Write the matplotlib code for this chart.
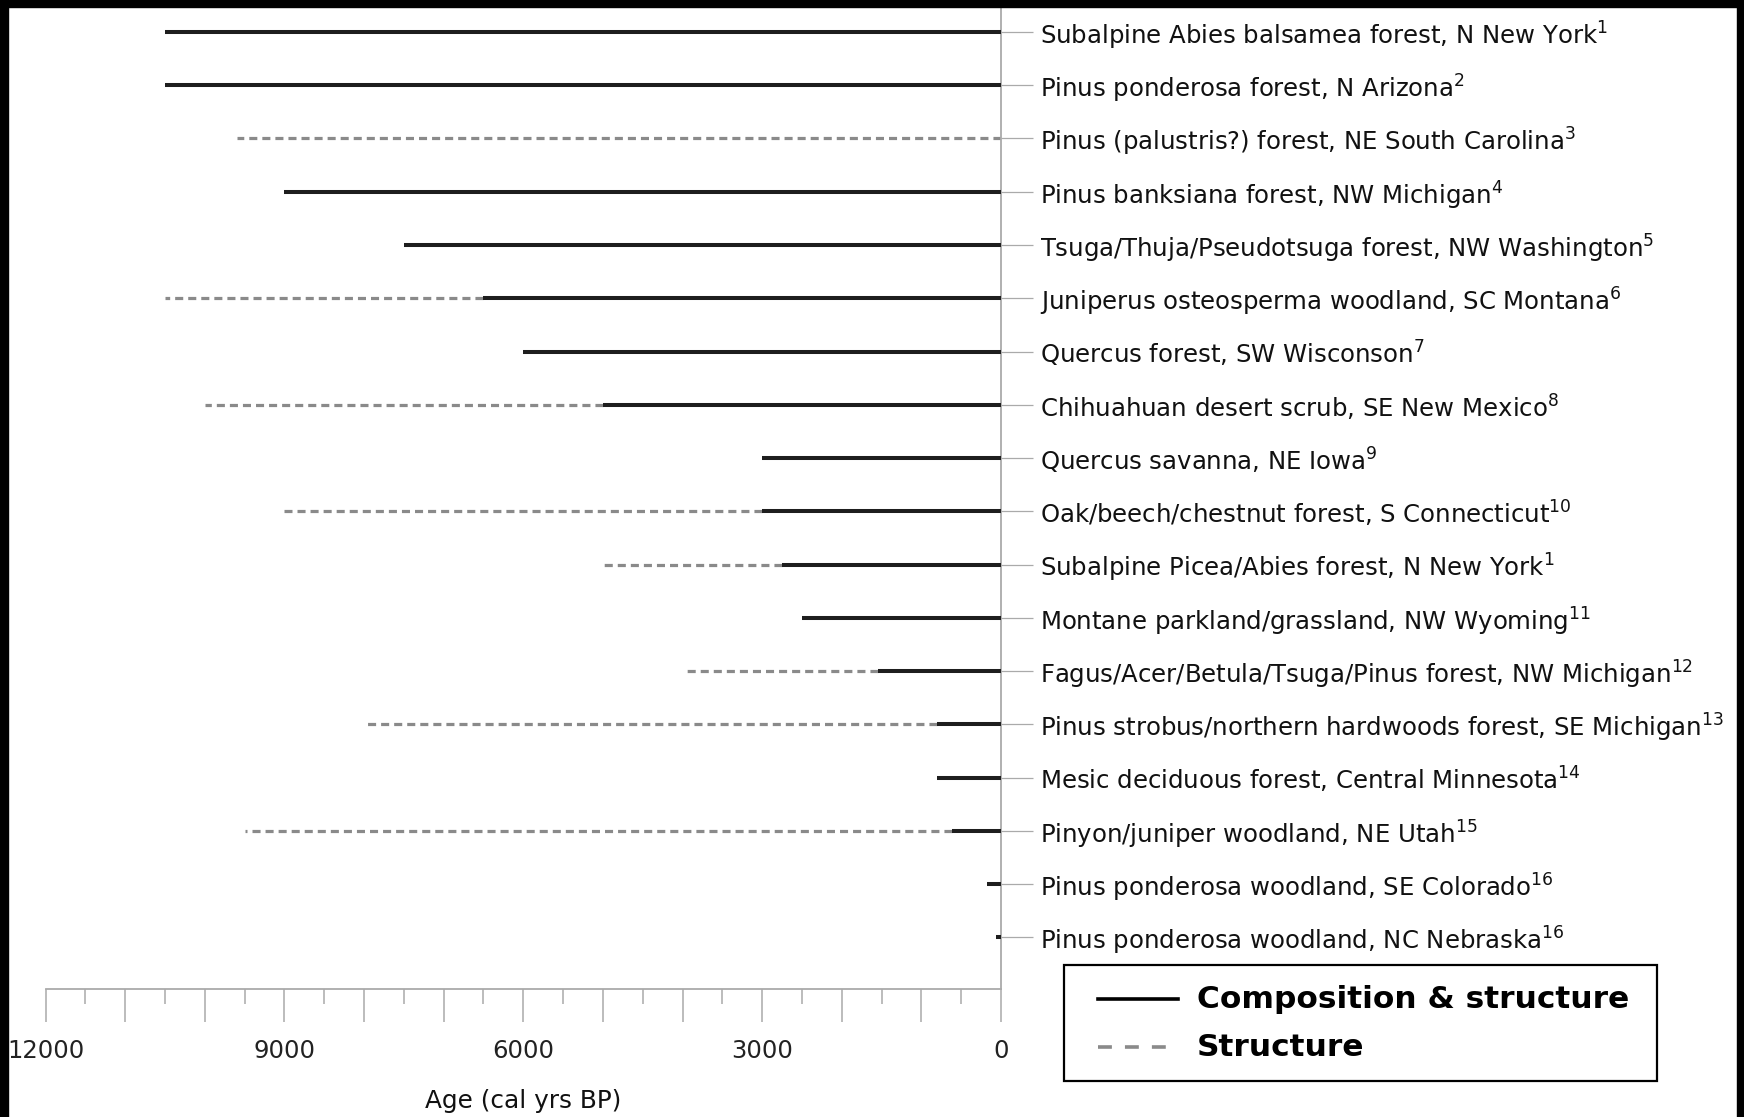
import matplotlib
matplotlib.use("Agg")
import matplotlib.pyplot as plt
from matplotlib.lines import Line2D
from matplotlib.patches import Rectangle
from matplotlib.ticker import MultipleLocator, FuncFormatter

W, H = 1744, 1117

sites = [
    "Subalpine Abies balsamea forest, N New York",
    "Pinus ponderosa forest, N Arizona",
    "Pinus (palustris?) forest, NE South Carolina",
    "Pinus banksiana forest, NW Michigan",
    "Tsuga/Thuja/Pseudotsuga forest, NW Washington",
    "Juniperus osteosperma woodland, SC Montana",
    "Quercus forest, SW Wisconson",
    "Chihuahuan desert scrub, SE New Mexico",
    "Quercus savanna, NE Iowa",
    "Oak/beech/chestnut forest, S Connecticut",
    "Subalpine Picea/Abies forest, N New York",
    "Montane parkland/grassland, NW Wyoming",
    "Fagus/Acer/Betula/Tsuga/Pinus forest, NW Michigan",
    "Pinus strobus/northern hardwoods forest, SE Michigan",
    "Mesic deciduous forest, Central Minnesota",
    "Pinyon/juniper woodland, NE Utah",
    "Pinus ponderosa woodland, SE Colorado",
    "Pinus ponderosa woodland, NC Nebraska",
]
refs = [1, 2, 3, 4, 5, 6, 7, 8, 9, 10, 1, 11, 12, 13, 14, 15, 16, 16]

# oldest age (cal yrs BP) of composition & structure record (0 = none)
comp_start = [10500, 10500, 0, 9000, 7500, 6500, 6000, 5000, 3000, 3000,
              2750, 2500, 1550, 800, 800, 620, 180, 60]
# oldest age of structure-only record (0 = none)
struct_start = [0, 0, 9600, 0, 0, 10500, 0, 10000, 0, 9000,
                5000, 0, 4000, 8000, 0, 9500, 0, 0]

plt.rcParams["lines.scale_dashes"] = False
plt.rcParams["font.family"] = "DejaVu Sans"


def fx(px):
    return px / W


def fy(py):
    return 1 - py / H


fig = plt.figure(figsize=(W / 100, H / 100), dpi=100)
ax = fig.add_axes([fx(45.6), fy(989), fx(1001) - fx(45.6), fy(0) - fy(989)])

rows = list(range(len(sites)))
for y, s, c in zip(rows, struct_start, comp_start):
    if s > 0:
        ax.hlines(y, c, s, colors="#8a8a8a", linewidth=2.3,
                  linestyles=(0, (5.8, 3.6)), zorder=2)
    if c > 0:
        ax.hlines(y, 0, c, colors="#1e1e1e", linewidth=2.9, zorder=3)

ax.set_xlim(12000, 0)
ax.set_ylim(17.97, -0.60)

for side in ["left", "top"]:
    ax.spines[side].set_visible(False)
for side in ["right", "bottom"]:
    ax.spines[side].set_color("#aaaaaa")
    ax.spines[side].set_linewidth(1.3)

ax.yaxis.tick_right()
ax.set_yticks(rows)
ax.set_yticklabels([f"{n}$^{{{r}}}$" for n, r in zip(sites, refs)])
ax.tick_params(axis="y", length=23, width=0.9, color="#aaaaaa", pad=5,
               labelsize=17.6, labelcolor="#111111")

ax.xaxis.set_major_locator(MultipleLocator(1000))
ax.xaxis.set_minor_locator(MultipleLocator(500))
ax.xaxis.set_major_formatter(FuncFormatter(lambda v, p: f"{v:.0f}" if v % 3000 == 0 else ""))
ax.tick_params(axis="x", which="major", length=24, width=1.1, color="#aaaaaa",
               pad=12, labelsize=17.5, labelcolor="#222222")
ax.tick_params(axis="x", which="minor", length=11, width=1.1, color="#aaaaaa")
ax.set_xlabel("Age (cal yrs BP)", fontsize=17.8, color="#111111")
ax.xaxis.set_label_coords(0.5, -0.101)

# legend box
fig.add_artist(Rectangle((fx(1064), fy(1081)), fx(1657) - fx(1064), fy(965) - fy(1081),
                         transform=fig.transFigure, facecolor="white",
                         edgecolor="black", linewidth=1.6))
fig.add_artist(Line2D([fx(1098), fx(1178)], [fy(999), fy(999)],
                      transform=fig.transFigure, color="black", linewidth=2.6))
fig.add_artist(Line2D([fx(1098), fx(1178)], [fy(1047), fy(1047)],
                      transform=fig.transFigure, color="#8a8a8a", linewidth=2.6,
                      dashes=(10, 9.4)))
fig.text(fx(1197), fy(999), "Composition & structure", fontsize=22.5,
         fontweight="bold", va="center", ha="left")
fig.text(fx(1197), fy(1047), "Structure", fontsize=22.5,
         fontweight="bold", va="center", ha="left")

# black frame on top, left and right
fig.add_artist(Rectangle((0, fy(7)), 1, 7 / H, transform=fig.transFigure,
                         color="black", zorder=10))
fig.add_artist(Rectangle((0, 0), fx(8), 1, transform=fig.transFigure,
                         color="black", zorder=10))
fig.add_artist(Rectangle((fx(1737), 0), fx(7), 1, transform=fig.transFigure,
                         color="black", zorder=10))

fig.savefig("out.png", dpi=100, facecolor="white")
